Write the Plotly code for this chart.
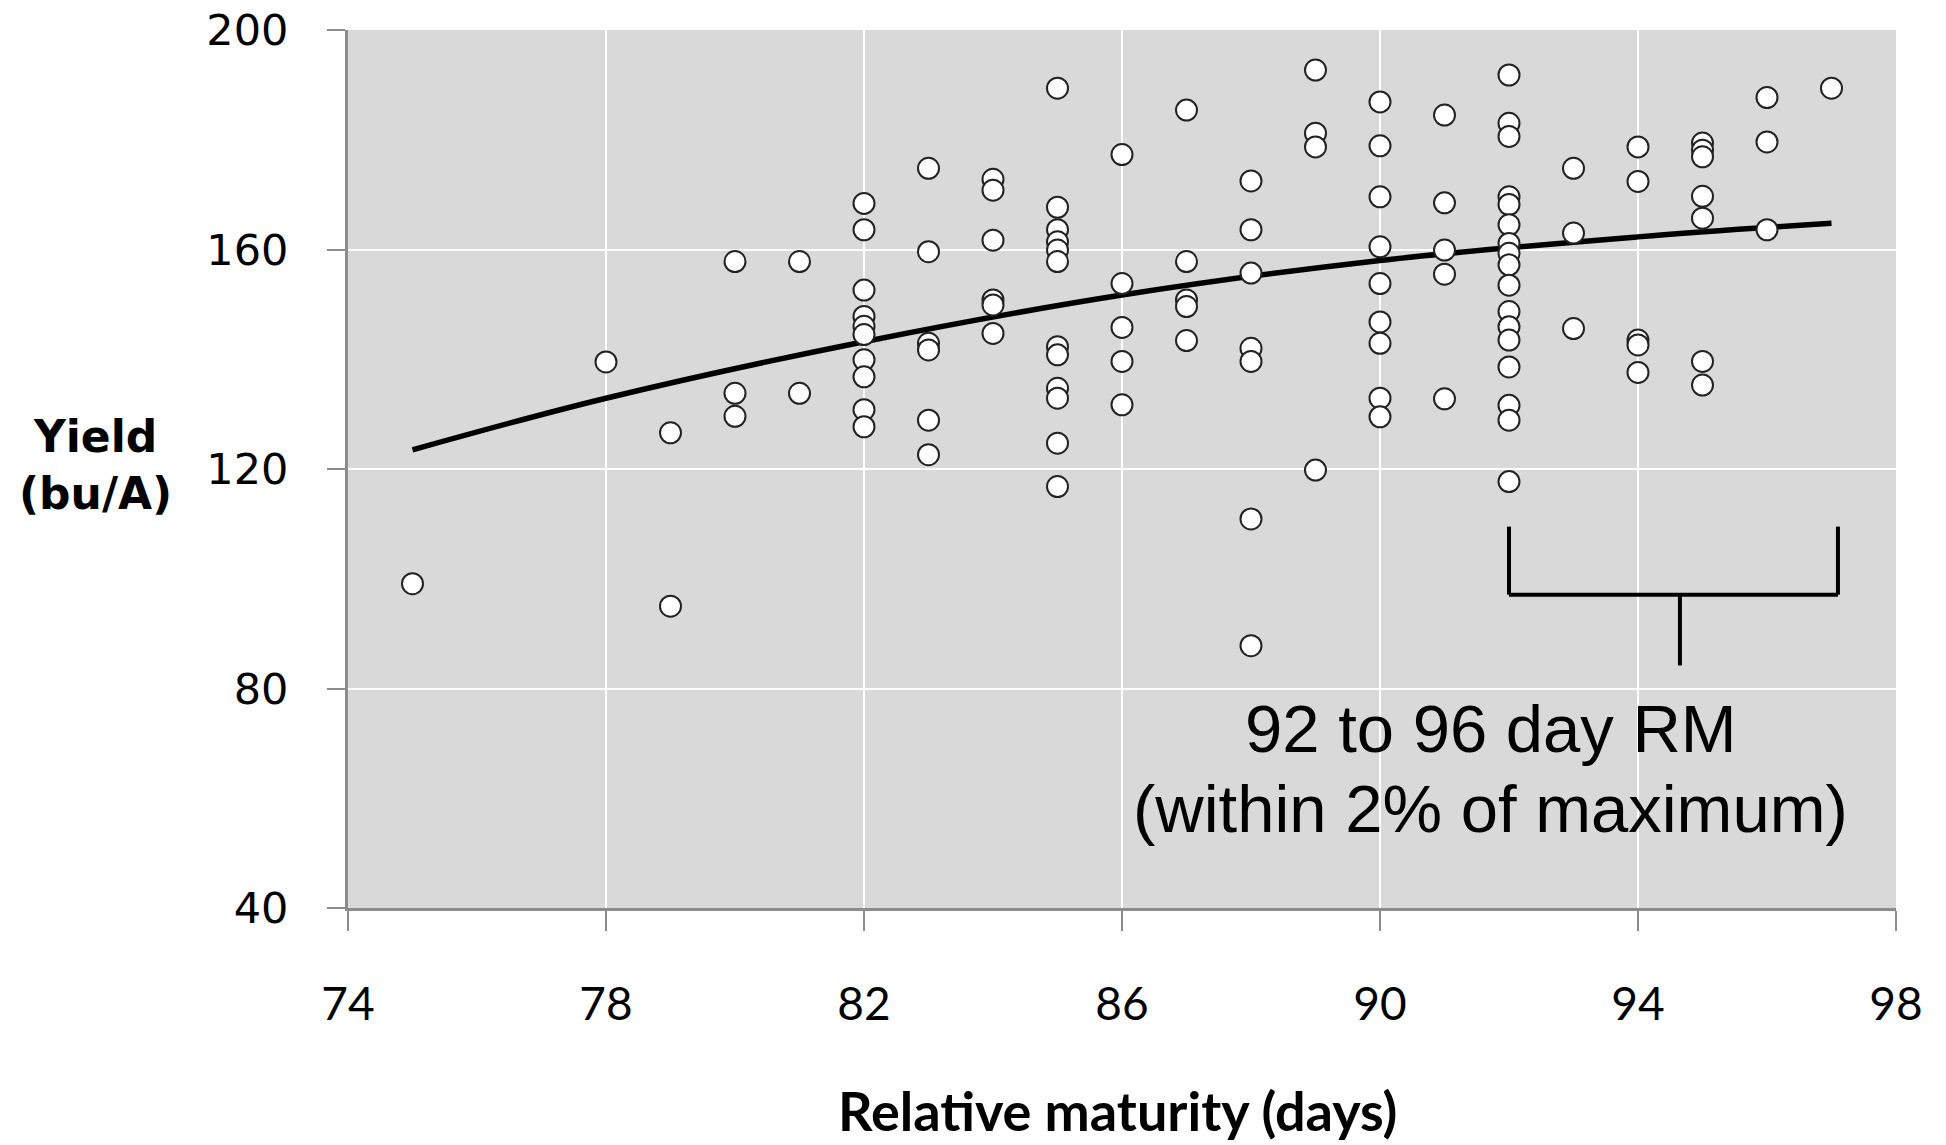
import plotly.graph_objects as go

# Relative maturity (days) and yield (bu/A) of each hybrid, grouped by maturity
rm_75 = [99.1]
rm_78 = [139.5]
rm_79 = [126.6, 95.0]
rm_80 = [157.8, 133.8, 129.6]
rm_81 = [157.8, 133.8]
rm_82 = [168.4, 163.6, 152.6, 147.8, 146.0, 144.5, 139.9, 136.8, 130.8, 127.7]
rm_83 = [174.8, 159.6, 142.9, 141.7, 128.9, 122.6]
rm_84 = [172.8, 170.8, 161.7, 150.8, 149.9, 144.7]
rm_85 = [189.4, 167.7, 163.6, 161.4, 159.9, 157.8, 142.3, 140.8, 134.7, 132.9, 124.7, 116.8]
rm_86 = [177.3, 153.8, 145.8, 139.6, 131.7]
rm_87 = [185.4, 157.8, 150.8, 149.6, 143.4]
rm_88 = [172.5, 163.6, 155.7, 142.0, 139.6, 110.9, 87.8]
rm_89 = [192.7, 181.2, 178.7, 119.8]
rm_90 = [186.9, 178.9, 169.6, 160.5, 153.8, 146.8, 142.9, 132.9, 129.5]
rm_91 = [184.5, 168.5, 159.9, 155.5, 132.8]
rm_92 = [191.8, 183.0, 180.6, 169.6, 168.2, 164.5, 161.1, 159.3, 157.2, 153.5,
         148.7, 145.9, 143.5, 138.6, 131.6, 128.9, 117.7]
rm_93 = [174.8, 163.0, 145.6]
rm_94 = [178.7, 172.4, 143.5, 142.6, 137.6]
rm_95 = [179.4, 178.1, 176.9, 169.7, 165.7, 139.6, 135.3]
rm_96 = [187.7, 179.6, 163.6]
rm_97 = [189.4]

groups = {
    75: rm_75, 78: rm_78, 79: rm_79, 80: rm_80, 81: rm_81, 82: rm_82, 83: rm_83,
    84: rm_84, 85: rm_85, 86: rm_86, 87: rm_87, 88: rm_88, 89: rm_89, 90: rm_90,
    91: rm_91, 92: rm_92, 93: rm_93, 94: rm_94, 95: rm_95, 96: rm_96, 97: rm_97,
}

# Quadratic trend of yield on maturity
trend_rm = [75, 78, 82, 86, 90, 94, 97]
trend_yield = [123.5, 132.9, 143.2, 151.7, 158.0, 162.3, 164.8]

x_ticks = [74, 78, 82, 86, 90, 94, 98]
y_ticks = [40, 80, 120, 160, 200]

# Bracket marking the 92 to 96 day RM window
bracket_left, bracket_right = 92.0, 97.1
bracket_top, bracket_bar = 109.5, 97.1
stem_x, stem_bottom = 94.65, 84.2

xs, ys = [], []
for rm, vals in groups.items():
    xs.extend([rm] * len(vals))
    ys.extend(vals)

fig = go.Figure()
fig.add_trace(go.Scatter(
    x=trend_rm, y=trend_yield, mode="lines",
    line=dict(color="black", width=5.5, shape="spline"),
    showlegend=False, hoverinfo="skip",
))
fig.add_trace(go.Scatter(
    x=xs, y=ys, mode="markers",
    marker=dict(symbol="circle", size=21, color="white",
                line=dict(color="#222222", width=2)),
    showlegend=False,
))

bracket_style = dict(color="black", width=4)
for x0, y0, x1, y1 in [
    (bracket_left, bracket_top, bracket_left, bracket_bar),
    (bracket_right, bracket_top, bracket_right, bracket_bar),
    (bracket_left, bracket_bar, bracket_right, bracket_bar),
    (stem_x, bracket_bar, stem_x, stem_bottom),
]:
    fig.add_shape(type="line", xref="x", yref="y", x0=x0, y0=y0, x1=x1, y1=y1,
                  line=bracket_style)

note_font = dict(family="Liberation Sans, Arial, sans-serif", size=67, color="black")
fig.add_annotation(x=91.72, y=72.8, xref="x", yref="y", text="92 to 96 day RM",
                   showarrow=False, font=note_font, xanchor="center", yanchor="middle")
fig.add_annotation(x=91.72, y=58.2, xref="x", yref="y", text="(within 2% of maximum)",
                   showarrow=False, font=note_font, xanchor="center", yanchor="middle")

title_font = dict(family="DejaVu Sans, Verdana, sans-serif", size=44, color="black")
fig.add_annotation(x=-0.163, y=0.505, xref="paper", yref="paper",
                   text="<b>Yield</b><br><b>(bu/A)</b>", showarrow=False,
                   font=title_font, xanchor="center", yanchor="middle", align="center")
fig.add_annotation(x=0.497, y=-0.231, xref="paper", yref="paper",
                   text="<b>Relative maturity (days)</b>", showarrow=False,
                   font=dict(family="Lato, Open Sans, sans-serif", size=54, color="black"),
                   xanchor="center", yanchor="middle")

x_tick_font = dict(family="Lato, Open Sans, sans-serif", size=46, color="black")
y_tick_font = dict(family="DejaVu Sans, Verdana, sans-serif", size=43, color="black")
fig.update_xaxes(
    range=[74, 98], tickvals=x_ticks, ticktext=[str(v) for v in x_ticks],
    showgrid=True, gridcolor="white", gridwidth=2,
    showline=True, linecolor="#8c8c8c", linewidth=3,
    ticks="outside", ticklen=20, tickwidth=2, tickcolor="#8c8c8c",
    tickfont=x_tick_font, ticklabelstandoff=34, zeroline=False, automargin=False,
)
fig.update_yaxes(
    range=[40, 200], tickvals=y_ticks, ticktext=[str(v) for v in y_ticks],
    showgrid=True, gridcolor="white", gridwidth=2,
    showline=True, linecolor="#8c8c8c", linewidth=3,
    ticks="outside", ticklen=18, tickwidth=2, tickcolor="#8c8c8c",
    tickfont=y_tick_font, ticklabelstandoff=30, zeroline=False, automargin=False,
)
fig.update_layout(
    width=1946, height=1145,
    margin=dict(l=348, r=50, t=30, b=237),
    plot_bgcolor="#d9d9d9", paper_bgcolor="white",
)
fig.write_html("out.html")
